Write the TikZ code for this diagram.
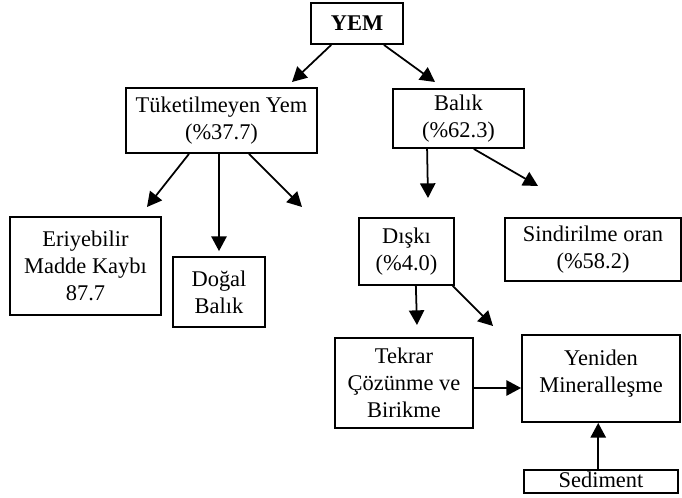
\documentclass[tikz,border=0pt]{standalone}
\usepackage{fontspec}
\setmainfont{Liberation Serif}
\usetikzlibrary{arrows.meta}
\tikzset{
    block/.style={
        draw, line width = 0.95pt,
        inner sep = 0pt,
        align = center,
        font = \fontsize{11.5}{13.8}\selectfont
    },
    line/.style = {-{Triangle[length=7.5pt, width=7.8pt]}, line width = 0.9pt}
}

\begin{document}
\begin{tikzpicture}[x=0.018cm, y=-0.018cm]

                        \useasboundingbox (0,0) rectangle (682,497);

                        % Blocks
                        \node[block, minimum width=1.656cm, minimum height=0.738cm] (yem) at (357,23.5) {\textbf{YEM}};
                        \node[block, minimum width=3.438cm, minimum height=1.17cm] (tuket) at (221.5,120.5) {Tüketilmeyen Yem \\ (\%37.7)};
                        \node[block, minimum width=2.358cm, minimum height=1.062cm] (balik) at (458.5,118.5) {Balık \\ (\%62.3)};
                        \node[block, minimum width=2.718cm, minimum height=1.764cm] (eriyen) at (85.5,266) {Eriyebilir \\ Madde Kaybı \\ 87.7};
                        \node[block, minimum width=1.656cm, minimum height=1.26cm] (dogal) at (219,292) {Doğal \\ Balık};
                        \node[block, minimum width=1.71cm, minimum height=1.206cm] (diski) at (406.5,251.5) {Dışkı \\ (\%4.0)};
                        \node[block, minimum width=3.168cm, minimum height=1.134cm] (sindir) at (593,249.5) {Sindirilme oran \\ (\%58.2)};
                        \node[block, minimum width=2.484cm, minimum height=1.62cm] (tekrar) at (404,383) {Tekrar \\ Çözünme ve \\ Birikme};
                        \node[block, minimum width=2.844cm, minimum height=1.566cm] (yeniden) at (601,378.5) {Yeniden \\ Mineralleşme \\[-6pt] \mbox{}};
                        \node[block, minimum width=2.772cm, minimum height=0.414cm, text depth=1.5pt] (sediment) at (601,481.5) {Sediment};

                        % Free arrow ends
                        \coordinate (yemL) at (292,82);
                        \coordinate (yemR) at (435,82);
                        \coordinate (tukL) at (147,207);
                        \coordinate (tukR) at (302,207);
                        \coordinate (balD) at (428,198);
                        \coordinate (balR) at (538,186);
                        \coordinate (disD) at (417,325);
                        \coordinate (disR) at (493,326);

                        % Lines
                        \draw[line] ([xshift=0.38cm]yem.south west) -- (yemL);
                        \draw[line] ([xshift=-0.36cm]yem.south east) -- (yemR);
                        \draw[line] ([xshift=1.15cm]tuket.south west) -- (tukL);
                        \draw[line] (tuket.south -| dogal.north) -- ([yshift=0.09cm]dogal.north);
                        \draw[line] ([xshift=-1.24cm]tuket.south east) -- (tukR);
                        \draw[line] ([xshift=0.63cm]balik.south west) -- (balD);
                        \draw[line] ([xshift=-0.92cm]balik.south east) -- (balR);
                        \draw[line] ([xshift=1.04cm]diski.south west) -- (disD);
                        \draw[line] ([xshift=-0.04cm]diski.south east) -- (disR);
                        \draw[line] ([yshift=-0.09cm]tekrar.east) -- ([yshift=-0.09cm]tekrar.east -| yeniden.west);
                        \draw[line] ([xshift=-0.05cm]sediment.north) -- ([xshift=-0.05cm]yeniden.south);

                    \end{tikzpicture}
\end{document}
